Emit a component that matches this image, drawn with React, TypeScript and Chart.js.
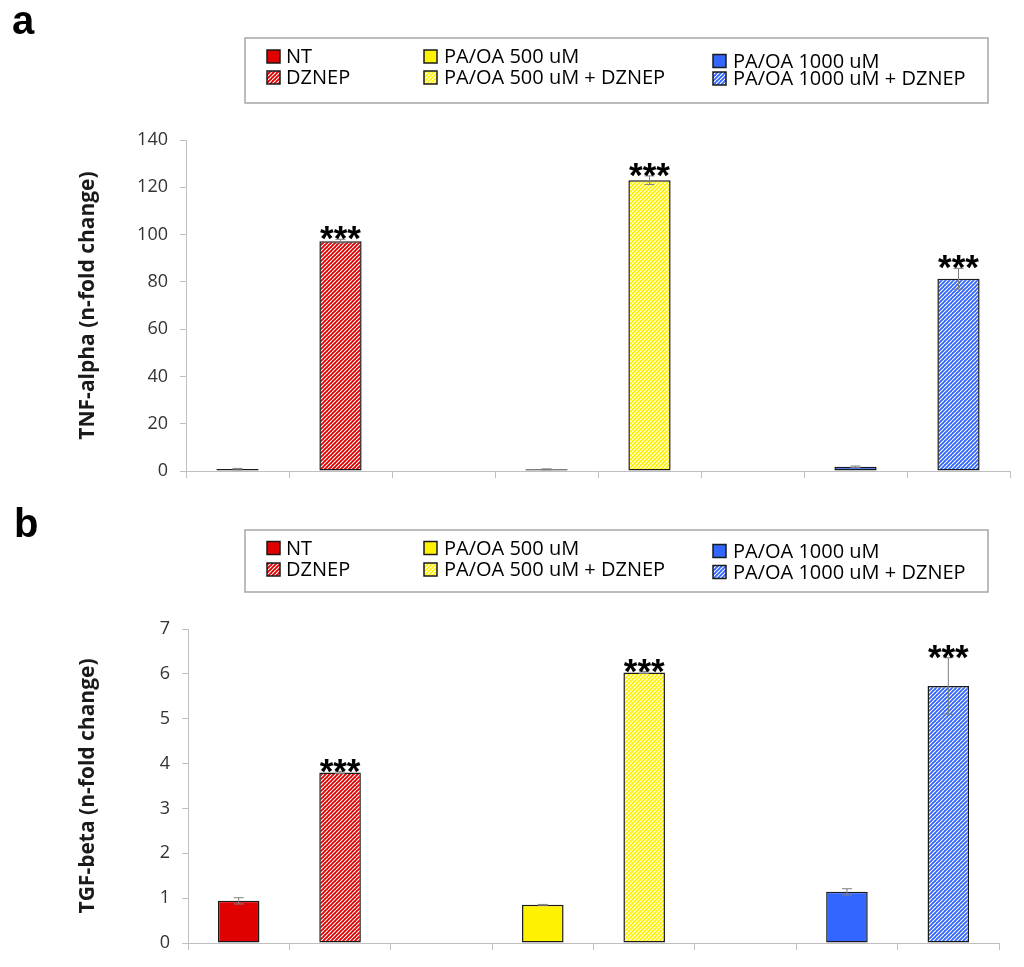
import React, { useEffect, useRef } from 'react';
import { Chart, registerables } from 'chart.js';

Chart.register(...registerables);

// ---------- data ----------
const categories = [
  'NT',
  'DZNEP',
  '',
  'PA/OA 500 uM',
  'PA/OA 500 uM + DZNEP',
  '',
  'PA/OA 1000 uM',
  'PA/OA 1000 uM + DZNEP',
];

const tnfValues = [0.8, 97.2, null, 0.7, 123.0, null, 1.8, 81.3];
const tnfErrors = [0.3, 0.8, null, 0.2, 1.8, null, 0.3, 4.4];
const tnfStars = ['', '***', '', '', '***', '', '', '***'];

const tgfValues = [0.94, 3.8, null, 0.85, 6.03, null, 1.14, 5.73];
const tgfErrors = [0.07, 0.02, null, 0.01, 0.02, null, 0.07, 0.63];
const tgfStars = ['', '***', '', '', '***', '', '', '***'];

const tnfTicks = { min: 0, max: 140, step: 20 };
const tgfTicks = { min: 0, max: 7, step: 1 };

// legend columns -> category indexes
const legendColumns = [
  [0, 1],
  [3, 4],
  [6, 7],
];

// ---------- styles ----------
const baseColors = ['#E00000', '#E00000', '#ffffff', '#FFF200', '#FFF200', '#ffffff', '#3366FF', '#3366FF'];
const hatched = [false, true, false, false, true, false, false, true];

const FONT = "'Open Sans', sans-serif";
const AXIS_GREY = '#BFBFBF';

function makeHatch(color: string): CanvasPattern | string {
  const s = 4;
  const c = document.createElement('canvas');
  c.width = s;
  c.height = s;
  const g = c.getContext('2d');
  if (!g) return color;
  g.fillStyle = color;
  g.fillRect(0, 0, s, s);
  g.strokeStyle = '#ffffff';
  g.lineWidth = 1.1;
  g.beginPath();
  for (let k = -1; k <= 1; k++) {
    g.moveTo(k * s, s);
    g.lineTo(k * s + s, 0);
  }
  g.stroke();
  const p = g.createPattern(c, 'repeat');
  return p || color;
}

function fills() {
  return baseColors.map((c, i) => (hatched[i] ? makeHatch(c) : c));
}

type PanelProps = {
  top: number;
  height: number;
  values: (number | null)[];
  errors: (number | null)[];
  stars: string[];
  ticks: { min: number; max: number; step: number };
  title: string;
  letter: string;
  letterPos: { x: number; y: number };
  area: { left: number; top: number; right: number; bottom: number };
  legend: { x: number; y: number; w: number; h: number; rows: number[][] };
};

function Panel(props: PanelProps) {
  const ref = useRef<HTMLCanvasElement | null>(null);

  useEffect(() => {
    const canvas = ref.current;
    if (!canvas) return;
    const fillList = fills();
    const { area, legend } = props;

    const custom = {
      id: 'custom',
      afterDatasetsDraw(chart: any) {
        const ctx = chart.ctx;
        const meta = chart.getDatasetMeta(0);
        const ys = chart.scales.y;
        ctx.save();
        props.values.forEach((v, i) => {
          if (v === null || v === undefined) return;
          const e = props.errors[i] || 0;
          const x = meta.data[i].x;
          const yT = ys.getPixelForValue(v + e);
          const yB = ys.getPixelForValue(Math.max(0, v - e));
          ctx.strokeStyle = '#7F7F7F';
          ctx.lineWidth = 1;
          ctx.beginPath();
          ctx.moveTo(x, yT);
          ctx.lineTo(x, yB);
          ctx.moveTo(x - 5, yT);
          ctx.lineTo(x + 5, yT);
          ctx.moveTo(x - 5, yB);
          ctx.lineTo(x + 5, yB);
          ctx.stroke();
          const s = props.stars[i];
          if (s) {
            const fs = 35;
            ctx.fillStyle = '#000000';
            ctx.font = `bold ${fs}px 'Liberation Sans', Arial, sans-serif`;
            ctx.textAlign = 'center';
            ctx.textBaseline = 'alphabetic';
            ctx.fillText(s, x, yT - 4 + 0.43 * fs);
          }
        });
        ctx.restore();
      },
      afterDraw(chart: any) {
        const ctx = chart.ctx;
        ctx.save();
        // panel letter
        ctx.fillStyle = '#000000';
        ctx.font = "bold 40px 'Liberation Sans', Arial, sans-serif";
        ctx.textAlign = 'left';
        ctx.textBaseline = 'alphabetic';
        ctx.fillText(props.letter, props.letterPos.x, props.letterPos.y);
        // legend box
        ctx.strokeStyle = '#A6A6A6';
        ctx.lineWidth = 1.5;
        ctx.strokeRect(legend.x, legend.y, legend.w, legend.h);
        const swatchX = [267, 424, 713];
        const textX = [286, 444, 733];
        ctx.font = `20px ${FONT}`;
        ctx.textBaseline = 'middle';
        legendColumns.forEach((col, ci) => {
          col.forEach((catIdx, ri) => {
            const cy = legend.rows[ci][ri];
            const sx = swatchX[ci];
            ctx.fillStyle = fillList[catIdx] as any;
            ctx.fillRect(sx, cy - 6.5, 13, 13);
            ctx.strokeStyle = '#1a1a1a';
            ctx.lineWidth = 1.5;
            ctx.strokeRect(sx, cy - 6.5, 13, 13);
            ctx.fillStyle = '#000000';
            ctx.fillText(categories[catIdx], textX[ci], cy + 1);
          });
        });
        ctx.restore();
      },
    };

    const chart = new Chart(canvas, {
      type: 'bar',
      data: {
        labels: categories,
        datasets: [
          {
            data: props.values as any,
            backgroundColor: fillList as any,
            borderColor: '#1a1a1a',
            borderWidth: 1.5,
            borderSkipped: false,
            barPercentage: 0.41,
            categoryPercentage: 1.0,
          },
        ],
      },
      options: {
        responsive: false,
        maintainAspectRatio: false,
        animation: false,
        devicePixelRatio: 1,
        layout: {
          padding: { left: 0, top: area.top, right: 1024 - area.right, bottom: 0 },
        },
        plugins: {
          legend: { display: false },
          tooltip: { enabled: false },
          title: { display: false },
        },
        scales: {
          x: {
            type: 'category',
            grid: {
              display: true,
              offset: true,
              drawOnChartArea: false,
              drawTicks: true,
              tickLength: 7,
              color: AXIS_GREY,
              lineWidth: 1,
            },
            border: { display: true, color: AXIS_GREY, width: 1 },
            ticks: { display: false },
            afterFit(scale: any) {
              scale.height = props.height - area.bottom;
            },
          },
          y: {
            min: props.ticks.min,
            max: props.ticks.max,
            grid: {
              display: true,
              drawOnChartArea: false,
              drawTicks: true,
              tickLength: 6,
              color: AXIS_GREY,
              lineWidth: 1,
            },
            border: { display: true, color: AXIS_GREY, width: 1 },
            ticks: {
              stepSize: props.ticks.step,
              padding: 12,
              color: '#333333',
              font: { family: FONT, size: 18 },
            },
            title: {
              display: true,
              text: props.title,
              color: '#1a1a1a',
              font: { family: FONT, size: 21, weight: 'bold' },
              padding: { top: 75, bottom: 0 },
            },
            afterFit(scale: any) {
              scale.width = area.left;
            },
          },
        },
      } as any,
      plugins: [custom as any],
    });

    return () => {
      chart.destroy();
    };
  }, []);

  return (
    <canvas
      ref={ref}
      width={1024}
      height={props.height}
      style={{ position: 'absolute', left: 0, top: props.top, width: 1024, height: props.height }}
    />
  );
}

export default function App() {
  return (
    <div
      style={{
        position: 'absolute',
        left: 0,
        top: 0,
        width: 1024,
        height: 967,
        overflow: 'hidden',
        background: '#ffffff',
      }}
    >
      <Panel
        top={0}
        height={510}
        values={tnfValues}
        errors={tnfErrors}
        stars={tnfStars}
        ticks={tnfTicks}
        title="TNF-alpha (n-fold change)"
        letter="a"
        letterPos={{ x: 12, y: 34 }}
        area={{ left: 186, top: 140, right: 1010, bottom: 471 }}
        legend={{ x: 245, y: 38, w: 743, h: 65, rows: [[56.5, 77.5], [56.5, 77.5], [61, 78.5]] }}
      />
      <Panel
        top={490}
        height={478}
        values={tgfValues}
        errors={tgfErrors}
        stars={tgfStars}
        ticks={tgfTicks}
        title="TGF-beta (n-fold change)"
        letter="b"
        letterPos={{ x: 14, y: 47 }}
        area={{ left: 188, top: 139, right: 999, bottom: 453 }}
        legend={{ x: 245, y: 40, w: 743, h: 62, rows: [[58, 79.5], [58, 79.5], [61, 82]] }}
      />
    </div>
  );
}
